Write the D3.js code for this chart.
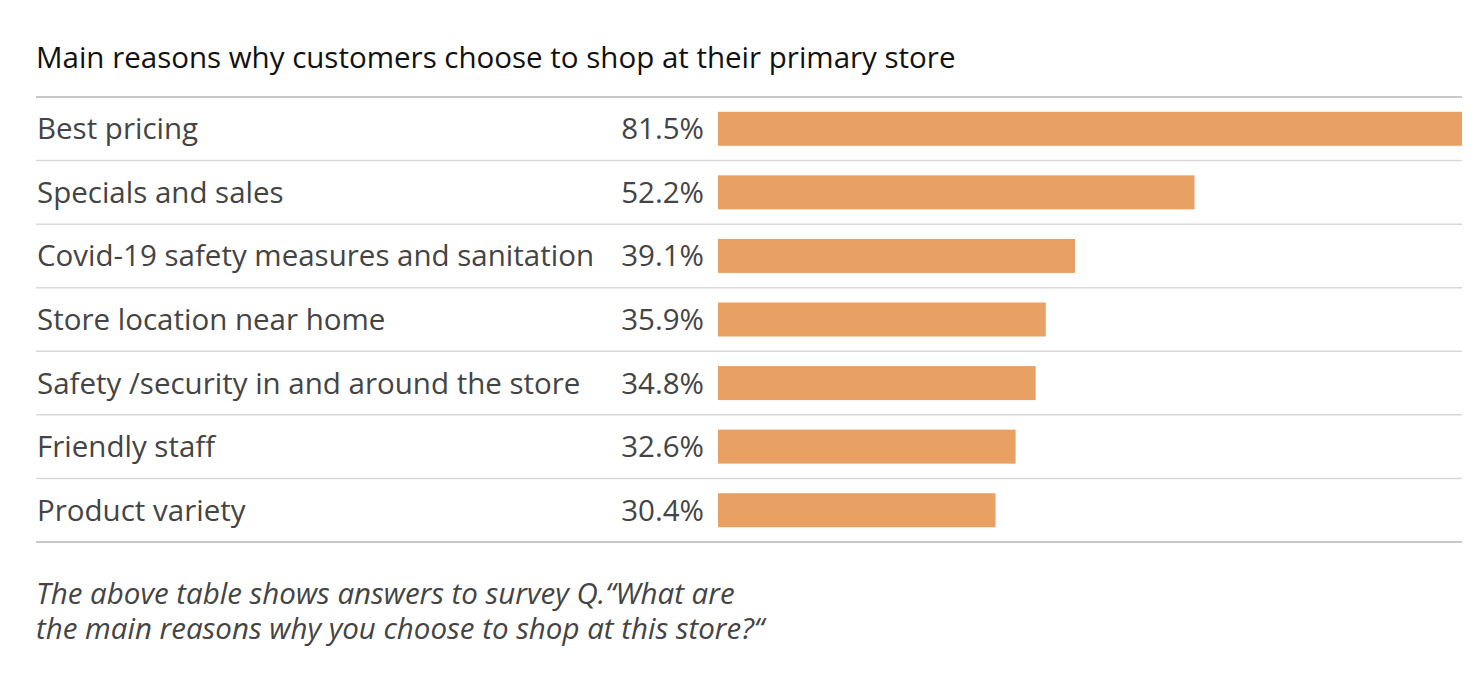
<!DOCTYPE html>
<html>
<head>
<meta charset="utf-8">
<script src="https://cdn.jsdelivr.net/npm/d3@7"></script>
<style>
  body { margin: 0; background: #fff; }
  svg text { font-family: "Open Sans", sans-serif; }
</style>
</head>
<body>
<script>
var reasons = ["Best pricing", "Specials and sales", "Covid-19 safety measures and sanitation",
  "Store location near home", "Safety /security in and around the store", "Friendly staff", "Product variety"];
var shares = [81.5, 52.2, 39.1, 35.9, 34.8, 32.6, 30.4];
var title = "Main reasons why customers choose to shop at their primary store";
var note = ["The above table shows answers to survey Q.\u201CWhat are",
  "the main reasons why you choose to shop at this store?\u201C"];

var w = 1484, h = 696;
var x0 = 36, x1 = 1462, yTop = 97, yBottom = 542;
var fs = 29.5;

var svg = d3.select("body").append("svg")
  .attr("width", w)
  .attr("height", h);

var y = d3.scaleBand().domain(reasons).range([yTop, yBottom]).padding(0);
var x = d3.scaleLinear().domain([0, d3.max(shares)]).range([718, x1]);
var barH = 34;

svg.append("text")
  .attr("x", x0)
  .attr("y", 68)
  .attr("font-size", fs)
  .attr("fill", "#111")
  .text(title);

// row dividers
svg.selectAll("line.div")
  .data(reasons.slice(1))
  .enter().append("line")
  .attr("x1", x0).attr("x2", x1)
  .attr("y1", function(d) { return y(d); })
  .attr("y2", function(d) { return y(d); })
  .attr("stroke", "#d9d9d9")
  .attr("stroke-width", 1.5);

[yTop, yBottom].forEach(function(v) {
  svg.append("line")
    .attr("x1", x0).attr("x2", x1)
    .attr("y1", v).attr("y2", v)
    .attr("stroke", "#c8c8c8")
    .attr("stroke-width", 2);
});

var rows = svg.selectAll("g.row")
  .data(reasons)
  .enter().append("g")
  .attr("transform", function(d) { return "translate(0," + (y(d) + y.bandwidth() / 2) + ")"; });

rows.append("text")
  .attr("x", x0 + 1)
  .attr("y", 10.5)
  .attr("font-size", fs)
  .attr("fill", "#444")
  .text(function(d) { return d; });

rows.append("text")
  .attr("x", 704)
  .attr("y", 10.5)
  .attr("text-anchor", "end")
  .attr("font-size", fs)
  .attr("fill", "#444")
  .text(function(d, i) { return shares[i].toFixed(1) + "%"; });

rows.append("rect")
  .attr("x", x(0))
  .attr("y", -barH / 2)
  .attr("height", barH)
  .attr("width", function(d, i) { return x(shares[i]) - x(0); })
  .attr("fill", "#e8a163");

svg.selectAll("text.note")
  .data(note)
  .enter().append("text")
  .attr("x", x0)
  .attr("y", function(d, i) { return 604 + i * 35; })
  .attr("font-size", fs)
  .attr("font-style", "italic")
  .attr("fill", "#444")
  .text(function(d) { return d; });
</script>
</body>
</html>
